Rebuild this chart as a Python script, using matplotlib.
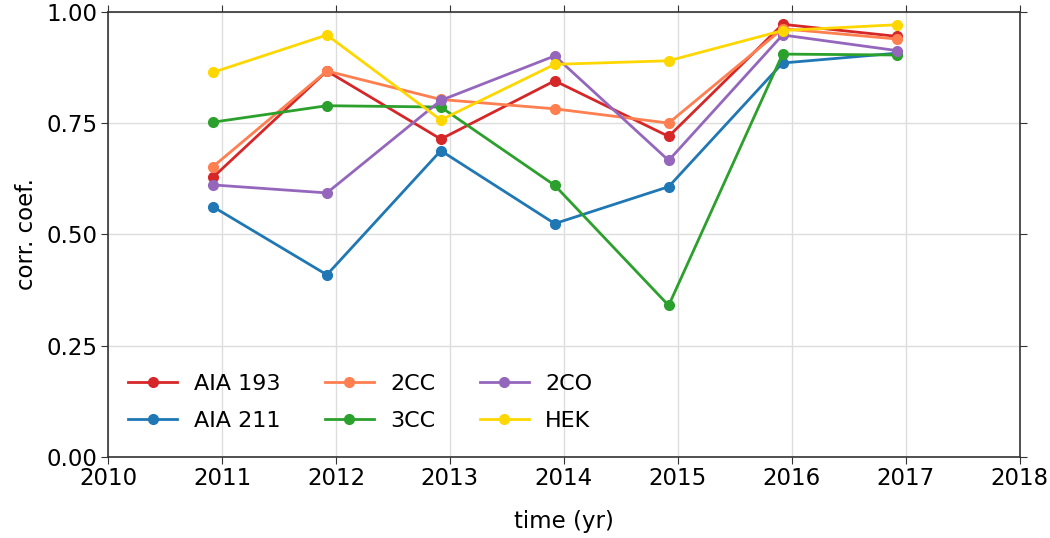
import matplotlib
matplotlib.use("Agg")
import matplotlib.pyplot as plt

years = [2010.92, 2011.92, 2012.92, 2013.92, 2014.92, 2015.92, 2016.92]

aia193 = [0.628, 0.867, 0.714, 0.845, 0.720, 0.972, 0.945]
aia211 = [0.562, 0.409, 0.688, 0.524, 0.607, 0.885, 0.907]
cc2 = [0.652, 0.867, 0.803, 0.782, 0.750, 0.962, 0.939]
cc3 = [0.752, 0.789, 0.786, 0.610, 0.340, 0.905, 0.903]
co2 = [0.611, 0.593, 0.801, 0.901, 0.666, 0.948, 0.913]
hek = [0.864, 0.948, 0.757, 0.882, 0.890, 0.958, 0.971]

series = [
    ("AIA 193", aia193, "tab:red"),
    ("AIA 211", aia211, "tab:blue"),
    ("2CC", cc2, "coral"),
    ("3CC", cc3, "tab:green"),
    ("2CO", co2, "tab:purple"),
    ("HEK", hek, "gold"),
]

fig = plt.figure(figsize=(10.5, 5.38), dpi=100)
ax = fig.add_axes([0.103, 0.151, 0.868, 0.827])

for name, vals, col in series:
    ax.plot(years, vals, "-o", color=col, label=name, lw=2, ms=7)

ax.set_xlim(2010, 2018)
ax.set_ylim(0, 1)
ax.set_xticks(range(2010, 2019))
ax.set_yticks([0, 0.25, 0.5, 0.75, 1.0])
ax.set_yticklabels(["0.00", "0.25", "0.50", "0.75", "1.00"])
ax.tick_params(labelsize=16.5, top=True, right=True, direction="out",
               length=5, pad=2.5, color="#333333")
ax.set_xlabel("time (yr)", fontsize=16.5, labelpad=14)
ax.set_ylabel("corr. coef.", fontsize=16.5, labelpad=6)
ax.grid(True, color="#dddddd", lw=1)
for s in ax.spines.values():
    s.set_linewidth(1.2)
    s.set_color("#333333")

ax.legend(loc="lower left", ncol=3, frameon=False, fontsize=16,
          handlelength=2.2, handletextpad=0.75, columnspacing=2.0,
          labelspacing=0.75, bbox_to_anchor=(0.0, 0.014))

plt.savefig("out.png", dpi=100)
